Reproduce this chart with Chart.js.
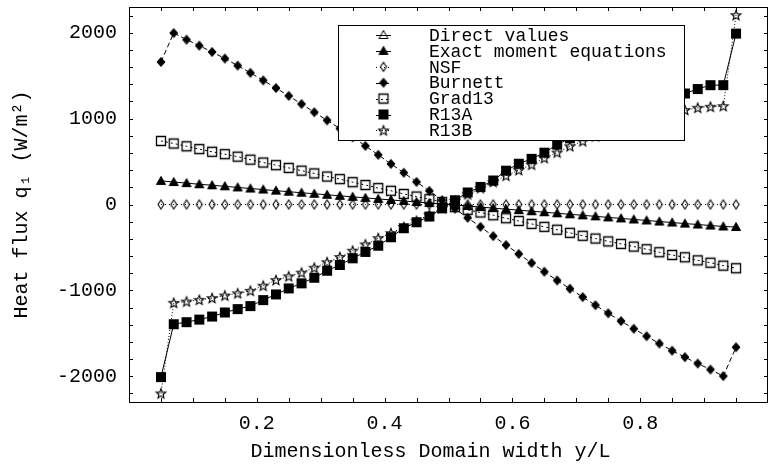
<!DOCTYPE html>
<html>
<head>
<meta charset="utf-8">
<script src="https://cdn.jsdelivr.net/npm/chart.js@4.4.1/dist/chart.umd.min.js"></script>
<style>
    html, body { margin: 0; padding: 0; background: #fff; }
    #chart { display: block; }
</style>
</head>
<body>
<canvas id="chart" width="768" height="467"></canvas>
<script>
// y/L positions of the samples
const yPos = [0.05, 0.07, 0.09, 0.11, 0.13, 0.15, 0.17, 0.19, 0.21, 0.23, 0.25, 0.27, 0.29, 0.31, 0.33, 0.35,
    0.37, 0.39, 0.41, 0.43, 0.45, 0.47, 0.49, 0.51, 0.53, 0.55, 0.57, 0.59, 0.61, 0.63, 0.65, 0.67, 0.69,
    0.71, 0.73, 0.75, 0.77, 0.79, 0.81, 0.83, 0.85, 0.87, 0.89, 0.91, 0.93, 0.95];

// heat flux q1 (W/m^2) per model
const directValues = [];
const exactMoment = [275, 262, 249, 236, 224, 212, 199, 186, 174, 161, 149, 137, 125, 113, 101, 89,
    77, 65, 53, 41, 29, 17, 5, -6, -18, -30, -42, -54, -66, -78, -90, -102, -114,
    -126, -138, -150, -162, -174, -186, -198, -210, -222, -233, -245, -256, -262];
const nsf = [0, 0, 0, 0, 0, 0, 0, 0, 0, 0, 0, 0, 0, 0, 0, 0, 0, 0, 0, 0, 0, 0, 0,
    0, 0, 0, 0, 0, 0, 0, 0, 0, 0, 0, 0, 0, 0, 0, 0, 0, 0, 0, 0, 0, 0, 0];
const burnett = [1660, 1997, 1920, 1850, 1776, 1700, 1618, 1533, 1445, 1356, 1265, 1170, 1075, 980, 885, 783,
    682, 578, 473, 370, 263, 158, 50, -48, -155, -260, -368, -472, -576, -681, -783, -885, -981,
    -1078, -1173, -1267, -1358, -1447, -1534, -1619, -1703, -1778, -1852, -1922, -1998, -1662];
const grad13 = [740, 710, 678, 645, 614, 586, 557, 522, 489, 458, 426, 394, 362, 326, 296, 260,
    227, 191, 160, 123, 93, 62, 28, -30, -62, -93, -125, -160, -192, -226, -260, -294, -330,
    -364, -396, -430, -459, -490, -521, -556, -588, -615, -650, -678, -712, -742];
const r13a = [-2010, -1394, -1370, -1340, -1305, -1257, -1218, -1183, -1113, -1047, -977, -918, -853, -771, -704, -626,
    -552, -480, -381, -276, -206, -140, -45, 50, 140, 205, 280, 394, 475, 532, 604, 697, 771,
    853, 918, 977, 1047, 1113, 1183, 1218, 1257, 1293, 1345, 1390, 1390, 1990];
const r13b = [-2200, -1145, -1130, -1110, -1090, -1060, -1035, -1005, -946, -880, -837, -794, -736, -672, -612, -538,
    -465, -392, -334, -262, -190, -118, -40, 40, 118, 190, 262, 335, 400, 464, 540, 605, 678,
    736, 794, 837, 880, 946, 1005, 1035, 1060, 1100, 1126, 1138, 1145, 2205];

const seriesNames = ['Direct values', 'Exact moment equations', 'NSF', 'Burnett', 'Grad13', 'R13A', 'R13B'];

// axis ticks: every tick gets a mark, only the labelled ones get text
const yTicks = [-2200, -2000, -1800, -1600, -1400, -1200, -1000, -800, -600, -400, -200, 0,
    200, 400, 600, 800, 1000, 1200, 1400, 1600, 1800, 2000, 2200];
const yTickLabels = ['-2000', '-1000', '0', '1000', '2000'];
const xTicks = [0.05, 0.1, 0.15, 0.2, 0.25, 0.3, 0.35, 0.4, 0.45, 0.5, 0.55, 0.6, 0.65, 0.7, 0.75, 0.8, 0.85, 0.9, 0.95];
const xTickLabels = ['0.2', '0.4', '0.6', '0.8'];

const FONT = "'Liberation Mono', 'DejaVu Sans Mono', monospace";
const INK = '#000';

// small canvases used as point markers (also reused by the legend)
function makeMarker(kind) {
    const c = document.createElement('canvas');
    c.width = 16;
    c.height = 16;
    const g = c.getContext('2d');
    g.strokeStyle = INK;
    g.fillStyle = INK;
    g.lineWidth = 1;
    g.beginPath();
    if (kind === 'tri') {
        g.moveTo(8, 3.5); g.lineTo(12.5, 11.5); g.lineTo(3.5, 11.5); g.closePath();
    } else if (kind === 'diamondSmall') {
        g.moveTo(8, 3.5); g.lineTo(11, 8); g.lineTo(8, 12.5); g.lineTo(5, 8); g.closePath();
    } else if (kind === 'diamond') {
        g.moveTo(8, 3.5); g.lineTo(12, 8); g.lineTo(8, 12.5); g.lineTo(4, 8); g.closePath();
    } else if (kind === 'square') {
        g.rect(3.5, 3.5, 9, 9);
    } else if (kind === 'star') {
        for (let i = 0; i < 10; i++) {
            const r = i % 2 === 0 ? 5 : 2.2;
            const a = -Math.PI / 2 + i * Math.PI / 5;
            const px = 8 + r * Math.cos(a), py = 8.4 + r * Math.sin(a);
            i === 0 ? g.moveTo(px, py) : g.lineTo(px, py);
        }
        g.closePath();
    }
    return { canvas: c, g: g };
}
function openMarker(kind, width) {
    const m = makeMarker(kind);
    m.g.lineWidth = width || 1;
    m.g.stroke();
    return m.canvas;
}
function filledMarker(kind) {
    const m = makeMarker(kind);
    if (kind === 'square') {
        m.g.fillRect(3, 3, 10, 10);
    } else {
        m.g.fill();
        m.g.stroke();
    }
    return m.canvas;
}

const markers = [
    openMarker('tri'),
    filledMarker('tri'),
    openMarker('diamondSmall', 1.1),
    filledMarker('diamond'),
    openMarker('square', 1.3),
    filledMarker('square'),
    openMarker('star', 1.2)
];
const dashes = [[], [], [1, 3], [5, 3], [2, 3], [], [1, 2]];
const values = [directValues, exactMoment, nsf, burnett, grad13, r13a, r13b];

const datasets = values.map((vals, i) => ({
    label: seriesNames[i],
    data: vals.map((v, k) => ({ x: yPos[k], y: v })),
    borderColor: INK,
    borderWidth: 1,
    borderDash: dashes[i],
    pointStyle: markers[i],
    pointRadius: 5,
    pointHoverRadius: 5,
    showLine: true,
    fill: false,
    tension: 0
}));

// frame + inward ticks on all four sides
const framePlugin = {
    id: 'frame',
    afterDraw(chart) {
        const { ctx, chartArea: a, scales } = chart;
        ctx.save();
        ctx.strokeStyle = INK;
        ctx.lineWidth = 1;
        ctx.strokeRect(Math.round(a.left) + 0.5, Math.round(a.top) + 0.5,
            Math.round(a.right - a.left) - 1, Math.round(a.bottom - a.top));
        ctx.beginPath();
        scales.x.ticks.forEach(t => {
            const px = Math.round(scales.x.getPixelForValue(t.value)) + 0.5;
            ctx.moveTo(px, a.bottom); ctx.lineTo(px, a.bottom - 4);
            ctx.moveTo(px, a.top); ctx.lineTo(px, a.top + 4);
        });
        scales.y.ticks.forEach(t => {
            const py = Math.round(scales.y.getPixelForValue(t.value)) + 0.5;
            ctx.moveTo(a.left, py); ctx.lineTo(a.left + 4, py);
            ctx.moveTo(a.right, py); ctx.lineTo(a.right - 4, py);
        });
        ctx.stroke();
        ctx.restore();
    }
};

// boxed legend inside the plot
const legendBox = { left: 338.5, top: 25.5, width: 346, height: 115 };
const legendPlugin = {
    id: 'boxLegend',
    afterDatasetsDraw(chart) {
        const ctx = chart.ctx;
        const b = legendBox;
        ctx.save();
        ctx.fillStyle = '#fff';
        ctx.fillRect(b.left, b.top, b.width, b.height);
        ctx.strokeStyle = INK;
        ctx.lineWidth = 1;
        ctx.strokeRect(b.left, b.top, b.width, b.height);
        ctx.font = '18px ' + FONT;
        ctx.textBaseline = 'middle';
        ctx.fillStyle = INK;
        chart.data.datasets.forEach((ds, i) => {
            const cy = 35 + i * 15.9;
            ctx.beginPath();
            ctx.setLineDash(ds.borderDash);
            ctx.moveTo(376, Math.round(cy) + 0.5);
            ctx.lineTo(391, Math.round(cy) + 0.5);
            ctx.stroke();
            ctx.setLineDash([]);
            ctx.drawImage(ds.pointStyle, 383.5 - 8, cy - 8);
            ctx.fillText(ds.label, 429, cy + 1);
        });
        ctx.restore();
    }
};

function labelFor(list, v) {
    const hit = list.find(s => Math.abs(parseFloat(s) - v) < 1e-6);
    return hit === undefined ? '' : hit;
}

new Chart(document.getElementById('chart'), {
    type: 'scatter',
    data: { datasets: datasets },
    options: {
        responsive: false,
        devicePixelRatio: 1,
        animation: false,
        layout: { autoPadding: false, padding: { top: 7, right: 0, left: 0, bottom: 0 } },
        plugins: {
            legend: { display: false },
            tooltip: { enabled: false }
        },
        scales: {
            x: {
                type: 'linear',
                min: 0,
                max: 1,
                grid: { display: false, drawTicks: false },
                border: { display: false },
                afterBuildTicks: scale => { scale.ticks = xTicks.map(v => ({ value: v })); },
                ticks: {
                    autoSkip: false,
                    maxRotation: 0,
                    padding: 10,
                    color: INK,
                    font: { family: FONT, size: 20 },
                    callback: v => labelFor(xTickLabels, v)
                },
                title: {
                    display: true,
                    // trailing spaces nudge the centred title left, as in the original
                    text: 'Dimensionless Domain width y/L   ',
                    color: INK,
                    font: { family: FONT, size: 20 },
                    padding: { top: 0, bottom: 3 }
                },
                afterFit: scale => {
                    scale.height = 65;
                    scale.paddingLeft = 0;
                    scale.paddingRight = 0;
                }
            },
            y: {
                min: -2300,
                max: 2300,
                grid: { display: false, drawTicks: false },
                border: { display: false },
                afterBuildTicks: scale => { scale.ticks = yTicks.map(v => ({ value: v })); },
                ticks: {
                    autoSkip: false,
                    padding: 12,
                    color: INK,
                    font: { family: FONT, size: 20 },
                    callback: v => labelFor(yTickLabels, v)
                },
                title: {
                    display: true,
                    text: 'Heat flux q\u2081 (W/m\u00b2)',
                    color: INK,
                    font: { family: FONT, size: 20 },
                    padding: { top: 10, bottom: 0 }
                },
                afterFit: scale => {
                    scale.width = 129;
                    scale.paddingTop = 0;
                    scale.paddingBottom = 0;
                }
            }
        }
    },
    plugins: [legendPlugin, framePlugin]
});
</script>
</body>
</html>
